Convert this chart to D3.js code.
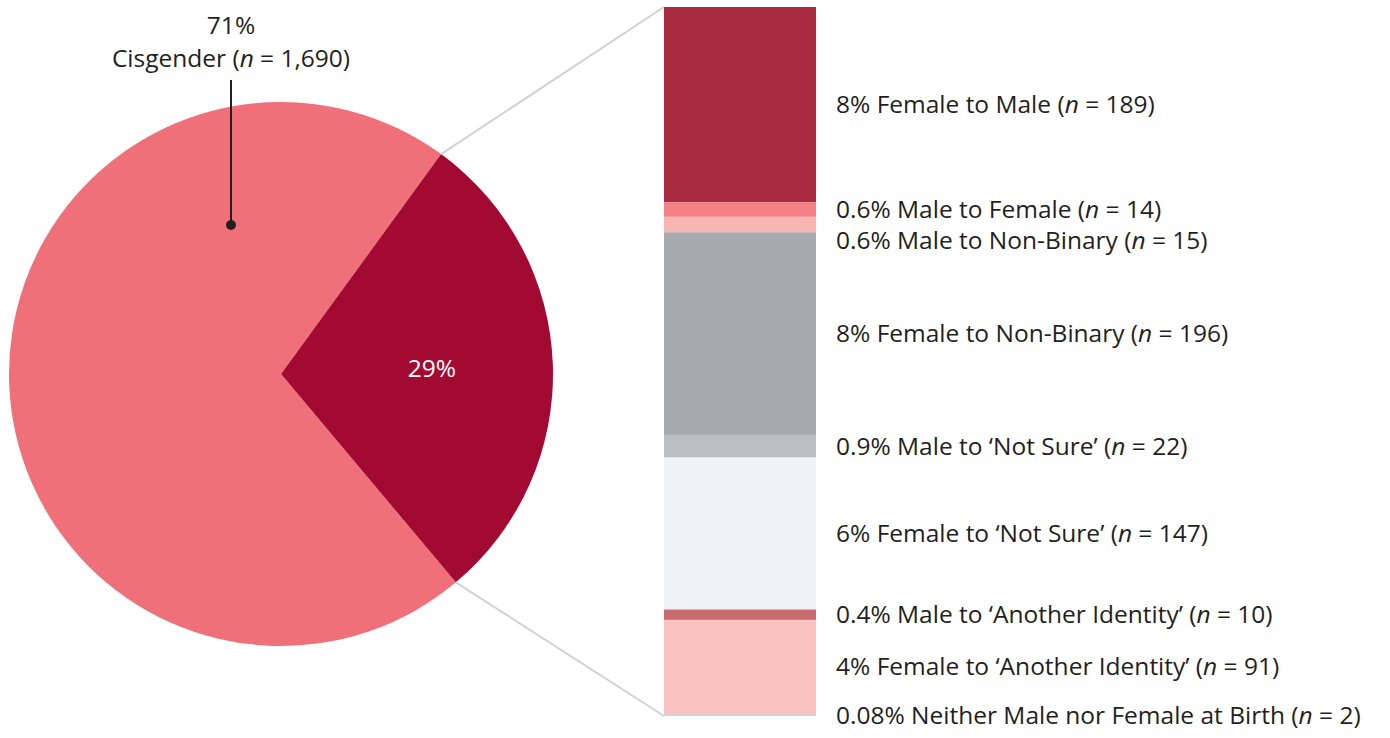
<!DOCTYPE html>
<html>
<head>
<meta charset="utf-8">
<script src="https://cdn.jsdelivr.net/npm/d3@7"></script>
<style>
  body { margin: 0; background: #fff; }
  text { font-family: "Open Sans", Lato, sans-serif; fill: #231f20; }
</style>
</head>
<body>
<div id="container"></div>
<script>
/* DATA */
const pieGroups = ["Cisgender", "Transgender / gender diverse"];
const pieCounts = [1690, 686];
const piePercents = ["71%", "29%"];

const barGroups = [
  "Female to Male", "Male to Female", "Male to Non-Binary",
  "Female to Non-Binary", "Male to \u2018Not Sure\u2019", "Female to \u2018Not Sure\u2019",
  "Male to \u2018Another Identity\u2019", "Female to \u2018Another Identity\u2019",
  "Neither Male nor Female at Birth"
];
const barCounts = [189, 14, 15, 196, 22, 147, 10, 91, 2];
const barPercents = ["8%", "0.6%", "0.6%", "8%", "0.9%", "6%", "0.4%", "4%", "0.08%"];
const barColors = ["#a82a3e", "#f47f84", "#f9b5b3", "#a8a9ad", "#bcbdc1",
                   "#f1f2f4", "#c86b6e", "#fac3c1", "#d1d3d4"];

/* CONSTANTS */
const width = 1390, height = 738;
const cx = 281, cy = 374, radius = 272;
const bar = { x: 664, w: 152, top: 7, bottom: 716 };
const fontSize = 24.5;

const svg = d3.select("#container")
  .append("svg")
  .attr("width", width)
  .attr("height", height);

// PIE
const start = 140 * Math.PI / 180;
const pie = d3.pie().sort(null).startAngle(start).endAngle(start + 2 * Math.PI);
const arcs = pie(pieCounts);
const arcGen = d3.arc().innerRadius(0).outerRadius(radius);

const g = svg.append("g").attr("transform", `translate(${cx},${cy})`);
g.selectAll(".slice")
  .data(arcs)
  .join("path")
  .attr("class", "slice")
  .attr("fill", (d, i) => ["#f07079", "#a20a32"][i])
  .attr("d", arcGen);

// connector lines from the small slice to the bar
const trans = arcs[1];
const edge = a => [cx + radius * Math.sin(a), cy - radius * Math.cos(a)];
const [x0, y0] = edge(trans.startAngle);
const [x1, y1] = edge(trans.endAngle);

// STACKED BAR
const y = d3.scaleLinear()
  .domain([0, d3.sum(barCounts)])
  .range([bar.top, bar.bottom]);

const stack = [];
let acc = 0;
barCounts.forEach((n, i) => {
  stack.push({ i, n, y0: acc, y1: acc + n });
  acc += n;
});

svg.append("line")
  .attr("x1", x0).attr("y1", y0).attr("x2", bar.x).attr("y2", bar.top)
  .attr("stroke", "#d1d1d1").attr("stroke-width", 2);
svg.append("line")
  .attr("x1", x1).attr("y1", y1).attr("x2", bar.x).attr("y2", bar.bottom)
  .attr("stroke", "#d1d1d1").attr("stroke-width", 2);

svg.selectAll(".seg")
  .data(stack)
  .join("rect")
  .attr("class", "seg")
  .attr("x", bar.x)
  .attr("width", bar.w)
  .attr("y", d => y(d.y0))
  .attr("height", d => y(d.y1) - y(d.y0))
  .attr("fill", d => barColors[d.i]);

// label positions: segment centres, pushed apart so they don't collide
const gap = 31;
const labelY = stack.map(d => (y(d.y0) + y(d.y1)) / 2);
for (let i = 1; i < labelY.length; i++) {
  if (labelY[i] - labelY[i - 1] < gap) labelY[i] = labelY[i - 1] + gap;
}

const labels = svg.selectAll(".bar-label")
  .data(stack)
  .join("text")
  .attr("class", "bar-label")
  .attr("x", 836)
  .attr("y", (d, i) => labelY[i])
  .attr("dy", "0.35em")
  .attr("font-size", fontSize);
labels.append("tspan").text(d => `${barPercents[d.i]} ${barGroups[d.i]} (`);
labels.append("tspan").attr("font-style", "italic").text("n");
labels.append("tspan").text(d => ` = ${d3.format(",")(d.n)})`);

// 29% label inside the dark slice
const labelArc = d3.arc().innerRadius(151).outerRadius(151);
const [lx, ly] = labelArc.centroid(trans);
svg.append("text")
  .attr("x", cx + lx).attr("y", cy + ly)
  .attr("dy", "0.35em")
  .attr("text-anchor", "middle")
  .attr("font-size", fontSize)
  .style("fill", "#fff")
  .text(piePercents[1]);

// Cisgender callout
const calloutX = 231;
svg.append("text")
  .attr("x", calloutX).attr("y", 25)
  .attr("dy", "0.35em")
  .attr("text-anchor", "middle")
  .attr("font-size", fontSize)
  .text(piePercents[0]);
const cis = svg.append("text")
  .attr("x", calloutX).attr("y", 58)
  .attr("dy", "0.35em")
  .attr("text-anchor", "middle")
  .attr("font-size", fontSize);
cis.append("tspan").text(`${pieGroups[0]} (`);
cis.append("tspan").attr("font-style", "italic").text("n");
cis.append("tspan").text(` = ${d3.format(",")(pieCounts[0])})`);

svg.append("line")
  .attr("x1", calloutX).attr("y1", 80)
  .attr("x2", calloutX).attr("y2", 225)
  .attr("stroke", "#231f20").attr("stroke-width", 2);
svg.append("circle")
  .attr("cx", calloutX).attr("cy", 225).attr("r", 5)
  .attr("fill", "#231f20");
</script>
</body>
</html>
